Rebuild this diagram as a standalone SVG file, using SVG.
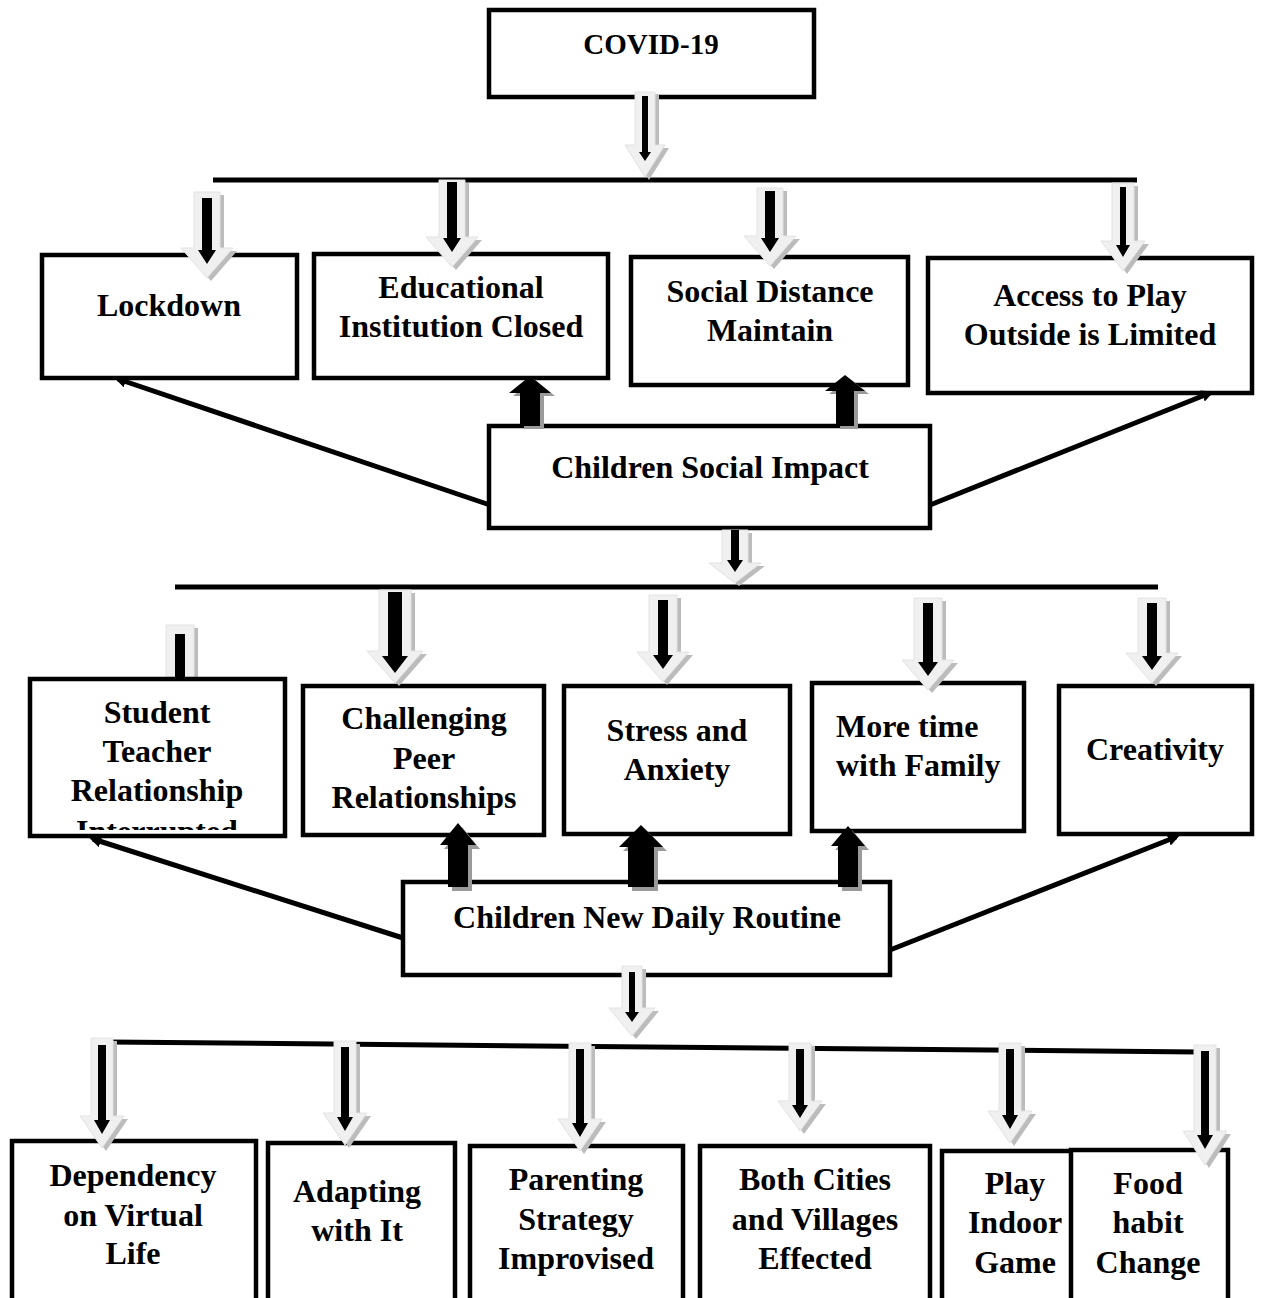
<svg xmlns="http://www.w3.org/2000/svg" width="1261" height="1298" viewBox="0 0 1261 1298">
<style>
.box{fill:#fff;stroke:#000;stroke-width:4.5}
.t{font-family:"Liberation Serif","Times New Roman",serif;font-weight:bold;font-size:32px;fill:#000;text-anchor:middle}
.ts{text-anchor:start}
.bar{stroke:#000;stroke-width:5;fill:none}
.ol{fill:#f0f0f0;stroke:#e2e2e2;stroke-width:1}
.sh{fill:#bcbcbc}
.in{fill:#000}
.up{fill:#000}
.ush{fill:#9a9a9a}
.ln{stroke:#000;stroke-width:5;fill:none;marker-end:url(#ah)}
</style>
<defs>
<marker id="ah" markerWidth="14" markerHeight="12" refX="8" refY="6" orient="auto" markerUnits="userSpaceOnUse">
<path d="M0,0 L12,6 L0,12 Z" fill="#000"/>
</marker>
<clipPath id="stc"><rect x="32" y="681" width="251" height="149"/></clipPath>
</defs>
<rect width="1261" height="1298" fill="#fff"/>

<g id="arrow-b1" transform="translate(180,625)">
<path class="sh" transform="translate(4,3)" d="M-14,0 H14 V68 H26 L0,100 L-26,68 H-14 Z"/>
<path class="ol" d="M-14,0 H14 V68 H26 L0,100 L-26,68 H-14 Z"/>
<path class="in" d="M-5,9 H5 V75 H9 L0,88 L-9,75 H-5 Z"/>
</g>

<g id="n-covid"><rect class="box" x="489" y="10" width="325" height="87"/><text class="t" x="651" y="54" font-size="29" style="font-size:29px">COVID-19</text></g>

<g id="n-lockdown"><rect class="box" x="42" y="255" width="255" height="123"/><text class="t" x="169" y="316">Lockdown</text></g>
<g id="n-edu"><rect class="box" x="314" y="254" width="294" height="124"/><text class="t" x="461" y="298">Educational</text><text class="t" x="461" y="337">Institution Closed</text></g>
<g id="n-social"><rect class="box" x="631" y="257" width="277" height="128"/><text class="t" x="770" y="302">Social Distance</text><text class="t" x="770" y="341">Maintain</text></g>
<g id="n-access"><rect class="box" x="928" y="258" width="324" height="135"/><text class="t" x="1090" y="306">Access to Play</text><text class="t" x="1090" y="345">Outside is Limited</text></g>

<g id="n-csi"><rect class="box" x="489" y="426" width="441" height="102"/><text class="t" x="710" y="478">Children Social Impact</text></g>

<g id="n-student"><rect class="box" x="30" y="679" width="255" height="157"/>
<g clip-path="url(#stc)"><text class="t" x="157" y="723">Student</text><text class="t" x="157" y="762">Teacher</text><text class="t" x="157" y="801">Relationship</text><text class="t" x="157" y="842">Interrupted</text></g></g>
<g id="n-peer"><rect class="box" x="303" y="686" width="241" height="149"/><text class="t" x="424" y="729">Challenging</text><text class="t" x="424" y="769">Peer</text><text class="t" x="424" y="808">Relationships</text></g>
<g id="n-stress"><rect class="box" x="564" y="686" width="226" height="148"/><text class="t" x="677" y="741">Stress and</text><text class="t" x="677" y="780">Anxiety</text></g>
<g id="n-family"><rect class="box" x="812" y="683" width="212" height="148"/><text class="t ts" x="836" y="737">More time</text><text class="t ts" x="836" y="776">with Family</text></g>
<g id="n-creativity"><rect class="box" x="1059" y="686" width="193" height="148"/><text class="t" x="1155" y="760">Creativity</text></g>

<g id="n-cndr"><rect class="box" x="403" y="882" width="487" height="93"/><text class="t" x="647" y="928">Children New Daily Routine</text></g>

<g id="n-dep"><rect class="box" x="12" y="1141" width="244" height="170"/><text class="t" x="133" y="1186">Dependency</text><text class="t" x="133" y="1226">on Virtual</text><text class="t" x="133" y="1264">Life</text></g>
<g id="n-adapt"><rect class="box" x="268" y="1143" width="187" height="170"/><text class="t" x="357" y="1202">Adapting</text><text class="t" x="357" y="1241">with It</text></g>
<g id="n-parent"><rect class="box" x="470" y="1146" width="213" height="170"/><text class="t" x="576" y="1190">Parenting</text><text class="t" x="576" y="1230">Strategy</text><text class="t" x="576" y="1269">Improvised</text></g>
<g id="n-cities"><rect class="box" x="700" y="1146" width="230" height="170"/><text class="t" x="815" y="1190">Both Cities</text><text class="t" x="815" y="1230">and Villages</text><text class="t" x="815" y="1269">Effected</text></g>
<g id="n-play"><rect class="box" x="942" y="1151" width="131" height="170"/><text class="t" x="1015" y="1194">Play</text><text class="t" x="1015" y="1233">Indoor</text><text class="t" x="1015" y="1273">Game</text></g>
<g id="n-food"><rect class="box" x="1071" y="1150" width="157" height="170"/><text class="t" x="1148" y="1194">Food</text><text class="t" x="1148" y="1233">habit</text><text class="t" x="1148" y="1273">Change</text></g>

<g id="connectors">
<line class="bar" x1="213" y1="180" x2="1137" y2="180"/>
<line class="bar" x1="175" y1="587" x2="1158" y2="587"/>
<line class="bar" x1="108" y1="1042" x2="1198" y2="1052"/>

<line class="ln" x1="490" y1="505" x2="118" y2="379"/>
<line class="ln" x1="930" y1="505" x2="1210" y2="393"/>
<line class="ln" x1="403" y1="938" x2="93" y2="839"/>
<line class="ln" x1="890" y1="950" x2="1176" y2="837"/>

<g transform="translate(645,92)">
<path class="sh" transform="translate(4,3)" d="M-10,0 H10 V53 H20 L0,85 L-20,53 H-10 Z"/>
<path class="ol" d="M-10,0 H10 V53 H20 L0,85 L-20,53 H-10 Z"/>
<path class="in" d="M-3,4 H3 V60 H6 L0,69 L-6,60 H-3 Z"/>
</g>
<g transform="translate(207,192)">
<path class="sh" transform="translate(4,3)" d="M-13,0 H13 V56 H26 L0,86 L-26,56 H-13 Z"/>
<path class="ol" d="M-13,0 H13 V56 H26 L0,86 L-26,56 H-13 Z"/>
<path class="in" d="M-5,6 H5 V58 H9 L0,72 L-9,58 H-5 Z"/>
</g>
<g transform="translate(452,180)">
<path class="sh" transform="translate(4,3)" d="M-13,0 H13 V57 H26 L0,87 L-26,57 H-13 Z"/>
<path class="ol" d="M-13,0 H13 V57 H26 L0,87 L-26,57 H-13 Z"/>
<path class="in" d="M-5,2 H5 V58 H9 L0,72 L-9,58 H-5 Z"/>
</g>
<g transform="translate(770,188)">
<path class="sh" transform="translate(4,3)" d="M-13,0 H13 V48 H26 L0,78 L-26,48 H-13 Z"/>
<path class="ol" d="M-13,0 H13 V48 H26 L0,78 L-26,48 H-13 Z"/>
<path class="in" d="M-5,3 H5 V50 H9 L0,64 L-9,50 H-5 Z"/>
</g>
<g transform="translate(1123,183)">
<path class="sh" transform="translate(4,3)" d="M-11,0 H11 V58 H22 L0,88 L-22,58 H-11 Z"/>
<path class="ol" d="M-11,0 H11 V58 H22 L0,88 L-22,58 H-11 Z"/>
<path class="in" d="M-3,4 H3 V62 H7 L0,74 L-7,62 H-3 Z"/>
</g>
<g transform="translate(735,530)">
<path class="sh" transform="translate(4,3)" d="M-13,0 H13 V33 H26 L0,53 L-26,33 H-13 Z"/>
<path class="ol" d="M-13,0 H13 V33 H26 L0,53 L-26,33 H-13 Z"/>
<path class="in" d="M-4,0 H4 V30 H8 L0,42 L-8,30 H-4 Z"/>
</g>

<g transform="translate(395,590)">
<path class="sh" transform="translate(4,3)" d="M-16,0 H16 V61 H28 L0,93 L-28,61 H-16 Z"/>
<path class="ol" d="M-16,0 H16 V61 H28 L0,93 L-28,61 H-16 Z"/>
<path class="in" d="M-7,2 H7 V66 H13 L0,83 L-13,66 H-7 Z"/>
</g>
<g transform="translate(663,595)">
<path class="sh" transform="translate(4,3)" d="M-14,0 H14 V57 H26 L0,87 L-26,57 H-14 Z"/>
<path class="ol" d="M-14,0 H14 V57 H26 L0,87 L-26,57 H-14 Z"/>
<path class="in" d="M-5,5 H5 V60 H10 L0,74 L-10,60 H-5 Z"/>
</g>
<g transform="translate(928,598)">
<path class="sh" transform="translate(4,3)" d="M-14,0 H14 V62 H26 L0,92 L-26,62 H-14 Z"/>
<path class="ol" d="M-14,0 H14 V62 H26 L0,92 L-26,62 H-14 Z"/>
<path class="in" d="M-5,5 H5 V64 H10 L0,78 L-10,64 H-5 Z"/>
</g>
<g transform="translate(1152,598)">
<path class="sh" transform="translate(4,3)" d="M-14,0 H14 V55 H26 L0,85 L-26,55 H-14 Z"/>
<path class="ol" d="M-14,0 H14 V55 H26 L0,85 L-26,55 H-14 Z"/>
<path class="in" d="M-5,5 H5 V58 H10 L0,72 L-10,58 H-5 Z"/>
</g>

<g transform="translate(632,966)">
<path class="sh" transform="translate(4,3)" d="M-10,0 H10 V42 H23 L0,70 L-23,42 H-10 Z"/>
<path class="ol" d="M-10,0 H10 V42 H23 L0,70 L-23,42 H-10 Z"/>
<path class="in" d="M-3,6 H3 V46 H7 L0,56 L-7,46 H-3 Z"/>
</g>

<g transform="translate(102,1038)">
<path class="sh" transform="translate(4,3)" d="M-11,0 H11 V78 H22 L0,110 L-22,78 H-11 Z"/>
<path class="ol" d="M-11,0 H11 V78 H22 L0,110 L-22,78 H-11 Z"/>
<path class="in" d="M-4,7 H4 V82 H8 L0,96 L-8,82 H-4 Z"/>
</g>
<g transform="translate(345,1041)">
<path class="sh" transform="translate(4,3)" d="M-11,0 H11 V72 H22 L0,104 L-22,72 H-11 Z"/>
<path class="ol" d="M-11,0 H11 V72 H22 L0,104 L-22,72 H-11 Z"/>
<path class="in" d="M-4,6 H4 V76 H8 L0,90 L-8,76 H-4 Z"/>
</g>
<g transform="translate(580,1043)">
<path class="sh" transform="translate(4,3)" d="M-11,0 H11 V76 H22 L0,108 L-22,76 H-11 Z"/>
<path class="ol" d="M-11,0 H11 V76 H22 L0,108 L-22,76 H-11 Z"/>
<path class="in" d="M-4,6 H4 V80 H8 L0,94 L-8,80 H-4 Z"/>
</g>
<g transform="translate(800,1043)">
<path class="sh" transform="translate(4,3)" d="M-11,0 H11 V58 H22 L0,88 L-22,58 H-11 Z"/>
<path class="ol" d="M-11,0 H11 V58 H22 L0,88 L-22,58 H-11 Z"/>
<path class="in" d="M-4,6 H4 V62 H8 L0,75 L-8,62 H-4 Z"/>
</g>
<g transform="translate(1010,1043)">
<path class="sh" transform="translate(4,3)" d="M-11,0 H11 V68 H22 L0,100 L-22,68 H-11 Z"/>
<path class="ol" d="M-11,0 H11 V68 H22 L0,100 L-22,68 H-11 Z"/>
<path class="in" d="M-4,6 H4 V72 H8 L0,86 L-8,72 H-4 Z"/>
</g>
<g transform="translate(1205,1045)">
<path class="sh" transform="translate(4,3)" d="M-11,0 H11 V86 H22 L0,120 L-22,86 H-11 Z"/>
<path class="ol" d="M-11,0 H11 V86 H22 L0,120 L-22,86 H-11 Z"/>
<path class="in" d="M-4,6 H4 V90 H8 L0,104 L-8,90 H-4 Z"/>
</g>

<g transform="translate(530,426)">
<path class="ush" transform="translate(4,3)" d="M-10,0 V-33 H-21 L0,-50 L21,-33 H10 V0 Z"/>
<path class="up" d="M-10,0 V-33 H-21 L0,-50 L21,-33 H10 V0 Z"/>
</g>
<g transform="translate(845,426)">
<path class="ush" transform="translate(4,3)" d="M-9,0 V-35 H-20 L0,-51 L20,-35 H9 V0 Z"/>
<path class="up" d="M-9,0 V-35 H-20 L0,-51 L20,-35 H9 V0 Z"/>
</g>
<g transform="translate(458,887)">
<path class="ush" transform="translate(4,4)" d="M-10,0 V-42 H-18 L0,-64 L18,-42 H10 V0 Z"/>
<path class="up" d="M-10,0 V-42 H-18 L0,-64 L18,-42 H10 V0 Z"/>
</g>
<g transform="translate(641,887)">
<path class="ush" transform="translate(4,4)" d="M-13,0 V-40 H-22 L0,-62 L22,-40 H13 V0 Z"/>
<path class="up" d="M-13,0 V-40 H-22 L0,-62 L22,-40 H13 V0 Z"/>
</g>
<g transform="translate(848,887)">
<path class="ush" transform="translate(4,4)" d="M-10,0 V-41 H-17 L0,-61 L17,-41 H10 V0 Z"/>
<path class="up" d="M-10,0 V-41 H-17 L0,-61 L17,-41 H10 V0 Z"/>
</g>
</g>
</svg>
